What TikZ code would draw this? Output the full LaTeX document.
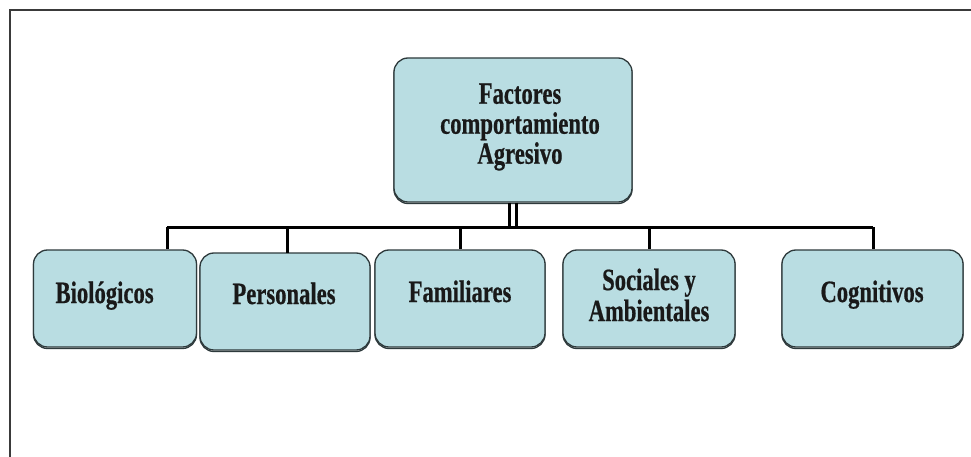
\documentclass[tikz,border=0pt]{standalone}
\usepackage{fontspec}
\newfontfamily\boxfont[FakeStretch=0.73,FakeBold=0.6]{Liberation Serif Bold}
\definecolor{boxfill}{HTML}{B9DDE2}
\definecolor{boxline}{HTML}{2E3A3C}
\definecolor{framecol}{HTML}{3A3A3A}
\tikzset{
  fbox/.style={draw=boxline, line width=1.3pt, fill=boxfill, rounded corners=14pt, minimum height=97pt, inner sep=0pt,
    preaction={draw=boxline, line width=1.3pt, rounded corners=14pt, transform canvas={yshift=-1.5pt}}},
  lbl/.style={font=\boxfont\fontsize{31}{31}\selectfont, text=black!90, align=center},
  bus/.style={line width=3pt, black},
}
\begin{document}
\begin{tikzpicture}[x=1pt,y=-1pt]
\useasboundingbox (0,0) rectangle (971,457);
\fill[white] (0,0) rectangle (971,457);
\draw[framecol, line width=2pt] (9.5,457) -- (9.5,10.5) -- (971,10.5);
% top node
\node[fbox, minimum width=238pt, minimum height=144pt] (top) at (513,130) {};
\node[lbl, font=\boxfont\fontsize{31}{30}\selectfont] (toptext) at (520,127) {Factores\\comportamiento\\Agresivo};
% bottom nodes
\node[fbox, minimum width=163pt] (bio) at (115,298.5) {};
\node[fbox, minimum width=170pt] (per) at (285,301.5) {};
\node[fbox, minimum width=170pt] (fam) at (460,298.5) {};
\node[fbox, minimum width=172pt] (soc) at (649,298.5) {};
\node[fbox, minimum width=181pt] (cog) at (872.5,298.5) {};
% labels
\node[lbl, anchor=base west] (biot) at (52,303) {Biológicos};
\node[lbl, anchor=base] (pert) at (284,304) {Personales};
\node[lbl, anchor=base] (famt) at (460,302) {Familiares};
\node[lbl] (soct) at (649,295) {Sociales y\\Ambientales};
\node[lbl, anchor=base] (cogt) at (872,302) {Cognitivos};
% connectors
\coordinate (busL) at (167,227);
\coordinate (busR) at (873,227);
\draw[bus] (busL) -- (busR);
\draw[line width=2.5pt] ([xshift=-3.5pt]top.south) -- ([xshift=-3.5pt]top.south |- busL);
\draw[line width=2.5pt] ([xshift=3.5pt]top.south) -- ([xshift=3.5pt]top.south |- busL);
\draw[bus] (busL) -- (bio.north -| busL);
\draw[bus] (287,227) -- (287,253);
\draw[bus] (fam.north |- busL) -- (fam.north);
\draw[bus] (soc.north |- busL) -- (soc.north);
\draw[bus] (busR) -- (cog.north -| busR);
\end{tikzpicture}
\end{document}
